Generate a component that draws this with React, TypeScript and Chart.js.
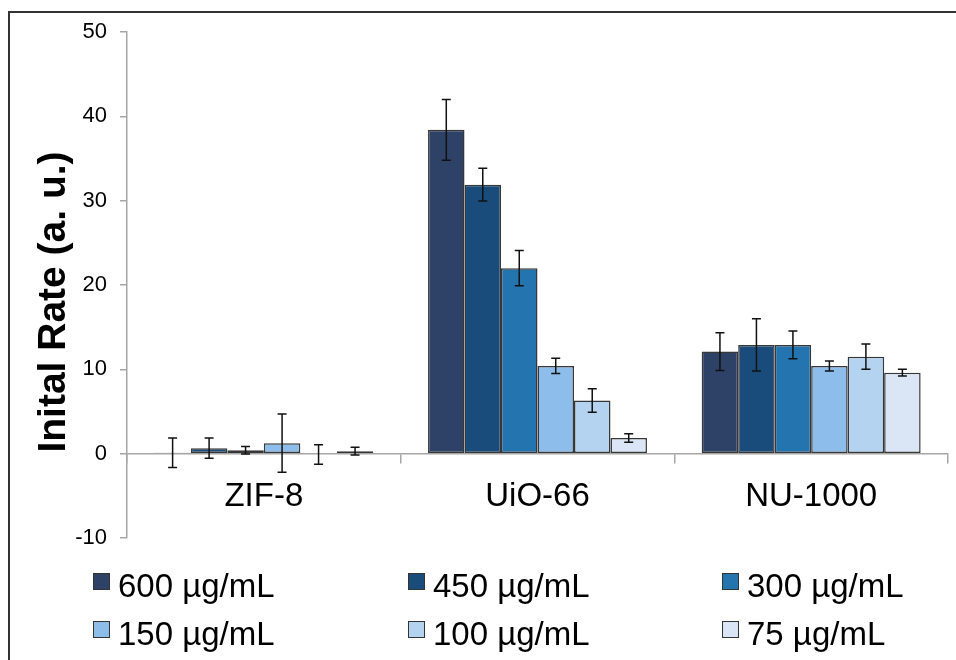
import { useEffect, useRef } from 'react';
import { Chart, registerables } from 'chart.js';

Chart.register(...registerables);

// MOF samples on the category axis
const categories = ['ZIF-8', 'UiO-66', 'NU-1000'];

// Concentration series (legend labels)
const concentrationLabels = ['600 µg/mL', '450 µg/mL', '300 µg/mL', '150 µg/mL', '100 µg/mL', '75 µg/mL'];

// Initial rate per sample for each concentration
const rate600 = [0.1, 38.4, 12.1];
const rate450 = [0.65, 31.9, 12.9];
const rate300 = [0.4, 22.0, 12.9];
const rate150 = [1.25, 10.4, 10.4];
const rate100 = [-0.1, 6.3, 11.5];
const rate75 = [0.3, 1.85, 9.6];

// Error bar half-widths (±) for each concentration
const err600 = [1.75, 3.6, 2.25];
const err450 = [1.2, 1.95, 3.1];
const err300 = [0.45, 2.1, 1.65];
const err150 = [3.45, 0.9, 0.6];
const err100 = [1.15, 1.4, 1.5];
const err75 = [0.45, 0.5, 0.4];

// Value axis range and tick step
const yMin = -10;
const yMax = 50;
const yStep = 10;

const axisTitle = 'Inital Rate (a. u.)';

const rateSeries = [rate600, rate450, rate300, rate150, rate100, rate75];
const errorSeries = [err600, err450, err300, err150, err100, err75];
const fillColors = ['#2E4166', '#1A4C7B', '#2474B0', '#8DBDEB', '#B3D3F0', '#DAE6F6'];

const FONT = '"Liberation Sans", Arial, sans-serif';

const errorBarPlugin = {
  id: 'errorBars',
  afterDatasetsDraw(chart: any) {
    const { ctx } = chart;
    const y = chart.scales.y;
    chart.data.datasets.forEach((ds: any, i: number) => {
      const meta = chart.getDatasetMeta(i);
      const errs = errorSeries[i];
      meta.data.forEach((bar: any, j: number) => {
        const v = ds.data[j] as number;
        const e = errs[j];
        const x = bar.x;
        const yt = y.getPixelForValue(v + e);
        const yb = y.getPixelForValue(v - e);
        ctx.save();
        ctx.strokeStyle = '#111';
        ctx.lineWidth = 1.5;
        ctx.beginPath();
        ctx.moveTo(x, yt);
        ctx.lineTo(x, yb);
        ctx.moveTo(x - 4.5, yt);
        ctx.lineTo(x + 4.5, yt);
        ctx.moveTo(x - 4.5, yb);
        ctx.lineTo(x + 4.5, yb);
        ctx.stroke();
        ctx.restore();
      });
    });
  },
};

const decorPlugin = {
  id: 'decor',
  afterDraw(chart: any) {
    const { ctx } = chart;
    ctx.save();
    // rotated value-axis title
    ctx.fillStyle = '#000';
    ctx.font = `bold 39px ${FONT}`;
    ctx.textAlign = 'center';
    ctx.textBaseline = 'middle';
    ctx.translate(54, 302);
    ctx.rotate(-Math.PI / 2);
    ctx.fillText(axisTitle, 0, 0);
    ctx.restore();

    // three-column legend
    const colX = [93, 408, 722];
    const rowTop = [573, 621];
    ctx.save();
    ctx.font = `33px ${FONT}`;
    ctx.textAlign = 'left';
    ctx.textBaseline = 'alphabetic';
    chart.data.datasets.forEach((ds: any, i: number) => {
      const x = colX[i % 3];
      const t = rowTop[Math.floor(i / 3)];
      ctx.fillStyle = ds.backgroundColor;
      ctx.fillRect(x, t, 17, 17);
      ctx.strokeStyle = '#333';
      ctx.lineWidth = 1;
      ctx.strokeRect(x + 0.5, t + 0.5, 16, 16);
      ctx.fillStyle = '#000';
      ctx.fillText(ds.label, x + 25, t + 24);
    });
    ctx.restore();
  },
};

export default function App() {
  const canvasRef = useRef<HTMLCanvasElement | null>(null);

  useEffect(() => {
    if (!canvasRef.current) return;
    const chart = new Chart(canvasRef.current, {
      type: 'bar',
      data: {
        labels: categories,
        datasets: rateSeries.map((data, i) => ({
          label: concentrationLabels[i],
          data,
          backgroundColor: fillColors[i],
          borderColor: 'rgba(20,20,20,0.85)',
          borderWidth: 1.5,
          borderSkipped: false,
          categoryPercentage: 0.8,
          barPercentage: 1,
        })),
      },
      options: {
        animation: false,
        responsive: true,
        maintainAspectRatio: false,
        layout: { padding: { top: 32, bottom: 122, right: 8, left: 0 } },
        plugins: {
          legend: { display: false },
          title: { display: false },
          tooltip: { enabled: false },
        },
        scales: {
          x: {
            position: { y: 0 } as any,
            grid: {
              display: true,
              drawOnChartArea: false,
              drawTicks: true,
              tickLength: 9,
              color: '#A6A6A6',
              lineWidth: 1.5,
            },
            border: { display: true, color: '#A6A6A6', width: 1.5 },
            ticks: {
              color: '#000',
              font: { family: FONT, size: 33 },
              padding: 14,
              maxRotation: 0,
            },
          },
          y: {
            min: yMin,
            max: yMax,
            afterFit: (s: any) => {
              s.width = 127;
              s.paddingTop = 0;
              s.paddingBottom = 0;
            },
            grid: {
              display: true,
              drawOnChartArea: false,
              drawTicks: true,
              tickLength: 7,
              color: '#A6A6A6',
              lineWidth: 1.5,
            },
            border: { display: true, color: '#A6A6A6', width: 1.5 },
            ticks: {
              stepSize: yStep,
              color: '#000',
              font: { family: FONT, size: 22 },
              padding: 13,
            },
          },
        },
      },
      plugins: [errorBarPlugin, decorPlugin],
    });
    return () => chart.destroy();
  }, []);

  return (
    <div
      style={{
        position: 'absolute',
        left: 0,
        top: 0,
        width: 956,
        height: 660,
        overflow: 'hidden',
        background: '#fff',
      }}
    >
      <div
        style={{
          position: 'absolute',
          left: 8,
          top: 11,
          width: 1200,
          height: 900,
          borderTop: '2px solid #333',
          borderLeft: '2px solid #333',
        }}
      />
      <canvas ref={canvasRef} style={{ position: 'absolute', left: 0, top: 0 }} />
    </div>
  );
}
